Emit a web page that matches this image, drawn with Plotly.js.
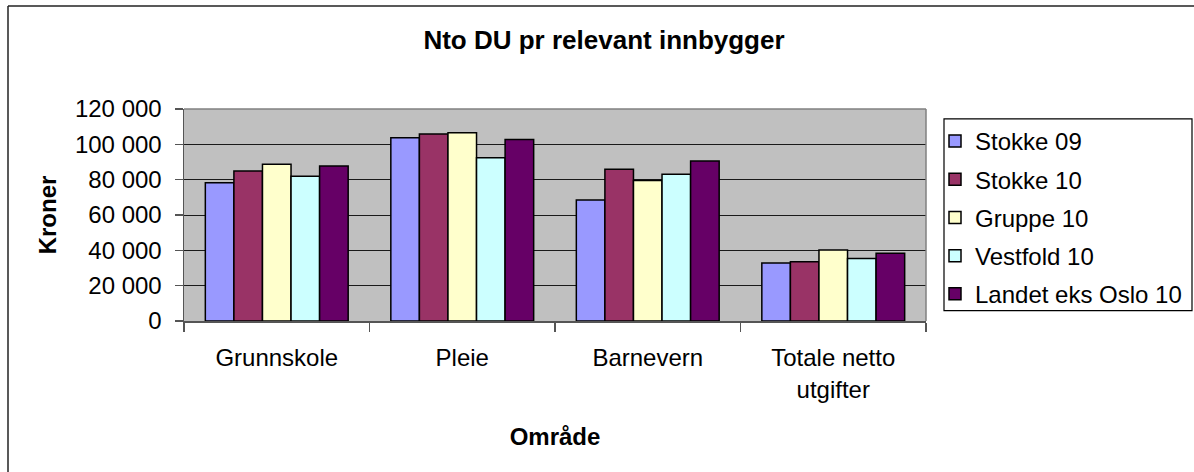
<!DOCTYPE html>
<html>
<head>
<meta charset="utf-8">
<script src="https://cdn.plot.ly/plotly-3.0.1.min.js"></script>
<style>
  html, body { margin: 0; padding: 0; background: #ffffff; }
  #chart { width: 1194px; height: 472px; }
</style>
</head>
<body>
<div id="chart"></div>
<script>
// Data
var categories = ['Grunnskole', 'Pleie', 'Barnevern', 'Totale netto<br>utgifter'];
var seriesNames = ['Stokke 09', 'Stokke 10', 'Gruppe 10', 'Vestfold 10', 'Landet eks Oslo 10'];
var stokke09   = [78200, 103700, 68500, 32800];
var stokke10   = [84900, 105800, 85900, 33500];
var gruppe10   = [88700, 106500, 79500, 40200];
var vestfold10 = [81900, 92400, 83000, 35400];
var landet10   = [87700, 102800, 90600, 38300];
var yTicks = [0, 20000, 40000, 60000, 80000, 100000, 120000];

var seriesValues = [stokke09, stokke10, gruppe10, vestfold10, landet10];
var colors = ['#9999FF', '#993366', '#FFFFCC', '#CCFFFF', '#660066'];

var FONT = 'Liberation Sans, Arial, sans-serif';

var traces = seriesNames.map(function (name, i) {
  return {
    type: 'bar',
    name: name,
    legendgroup: 'g' + i,
    x: categories,
    y: seriesValues[i],
    marker: { color: colors[i], line: { color: '#000000', width: 1.5 } },
    hoverinfo: 'x+y+name'
  };
});

// Plot area geometry in pixels (for paper-coordinate conversion of frame lines)
var L = 184, R = 926, T = 108.5, B = 321.5, W = 1194, H = 472;
function px(x) { return (x - L) / (R - L); }
function py(y) { return (B - y) / (B - T); }

var layout = {
  width: W,
  height: H,
  margin: { l: L, r: W - R, t: T, b: H - B, pad: 0, autoexpand: false },
  paper_bgcolor: '#ffffff',
  plot_bgcolor: '#C0C0C0',
  separators: ', ',
  font: { family: FONT, size: 24, color: '#000000' },
  title: {
    text: 'Nto DU pr relevant innbygger',
    font: { family: FONT, size: 26, color: '#000000', weight: 'bold' },
    xref: 'container', yref: 'container',
    x: 604 / W, xanchor: 'center',
    y: 1 - 40 / H, yanchor: 'middle'
  },
  barmode: 'group',
  bargap: 0.23,
  bargroupgap: 0,
  showlegend: true,
  legend: {
    x: px(935), xanchor: 'left',
    y: py(118.5), yanchor: 'top',
    bgcolor: 'rgba(0,0,0,0)',
    borderwidth: 0,
    font: { family: FONT, size: 24, color: '#000000' },
    traceorder: 'grouped',
    tracegroupgap: 4,
    itemwidth: 30
  },
  xaxis: {
    type: 'category',
    showgrid: false,
    zeroline: false,
    showline: true,
    linecolor: '#555555',
    linewidth: 1.5,
    ticks: 'outside',
    tickson: 'boundaries',
    ticklen: 9,
    tickcolor: '#555555',
    tickwidth: 1.5,
    tickfont: { family: FONT, size: 24, color: '#000000' },
    ticklabelstandoff: 15,
    title: {
      text: 'Område',
      font: { family: FONT, size: 24, color: '#000000', weight: 'bold' },
      standoff: 26
    },
    fixedrange: true
  },
  yaxis: {
    range: [0, 120000],
    tickvals: yTicks,
    tickformat: ',d',
    showgrid: true,
    gridcolor: '#1a1a1a',
    gridwidth: 1,
    zeroline: false,
    showline: true,
    linecolor: '#555555',
    linewidth: 1.5,
    ticks: 'outside',
    ticklen: 8,
    tickcolor: '#555555',
    tickwidth: 1.5,
    tickfont: { family: FONT, size: 24, color: '#000000' },
    ticklabelstandoff: 8,
    title: {
      text: 'Kroner',
      font: { family: FONT, size: 24, color: '#000000', weight: 'bold' },
      standoff: 11
    },
    fixedrange: true
  },
  shapes: [
    // plot area gray border (top and right)
    { type: 'line', xref: 'paper', yref: 'paper', x0: 0, x1: 1, y0: 1, y1: 1,
      line: { color: '#808080', width: 1.5 } },
    { type: 'line', xref: 'paper', yref: 'paper', x0: 1, x1: 1, y0: 0, y1: 1,
      line: { color: '#808080', width: 1.5 } },
    // legend box
    { type: 'rect', xref: 'paper', yref: 'paper',
      x0: px(944), x1: px(1192), y0: py(311), y1: py(118.5),
      fillcolor: 'rgba(0,0,0,0)', line: { color: '#000000', width: 1.2 } },
    // outer chart frame (top and left visible)
    { type: 'line', xref: 'paper', yref: 'paper', x0: px(8), x1: px(1200), y0: py(5), y1: py(5),
      line: { color: '#222222', width: 1.5 } },
    { type: 'line', xref: 'paper', yref: 'paper', x0: px(8), x1: px(8), y0: py(5), y1: py(480),
      line: { color: '#222222', width: 1.5 } }
  ]
};

Plotly.newPlot('chart', traces, layout, { displayModeBar: false, staticPlot: true });
</script>
</body>
</html>
